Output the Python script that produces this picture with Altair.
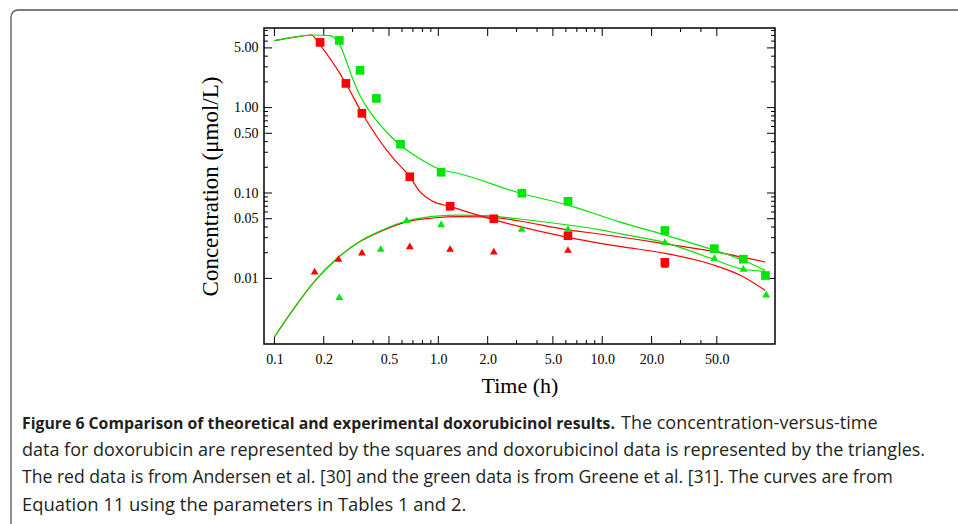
import altair as alt
import pandas as pd

# ---------------- data ----------------
# model curves
rp_t = [0.1, 0.13, 0.168, 0.189, 0.272, 0.342, 0.528, 0.668, 0.769, 0.927, 1.17, 2.17, 6.06, 12.75, 23.75, 47.2, 72.0, 98.6]
rp_c = [6.07, 6.64, 7.08, 5.45, 1.94, 0.865, 0.257, 0.156, 0.1045, 0.0798, 0.0697, 0.0487, 0.0305, 0.0237, 0.0198, 0.01446, 0.01055, 0.00724]

gp_t = [0.1, 0.13, 0.168, 0.217, 0.239, 0.256, 0.275, 0.302, 0.331, 0.381, 0.459, 0.581, 0.734, 1.02, 1.35, 3.13, 6.03, 12.75, 23.75, 47.2, 71.0, 98.6]
gp_c = [6.07, 6.64, 7.08, 6.95, 6.24, 4.99, 3.47, 2.12, 1.416, 0.903, 0.577, 0.368, 0.268, 0.19, 0.168, 0.1, 0.073, 0.046, 0.0325, 0.0217, 0.01656, 0.01241]

gm_t = [0.1, 0.13, 0.172, 0.239, 0.331, 0.459, 0.638, 0.927, 1.35, 1.96, 3.13, 6.03, 9.63, 12.75, 23.75, 47.2, 71.0, 98.6]
gm_c = [0.00206, 0.0043, 0.00883, 0.01687, 0.0271, 0.0372, 0.047, 0.0532, 0.0552, 0.0542, 0.0496, 0.0425, 0.0372, 0.0334, 0.0264, 0.01687, 0.01288, 0.0121]

rm_t = [0.1, 0.13, 0.172, 0.239, 0.331, 0.459, 0.638, 0.927, 1.35, 1.96, 3.13, 6.03, 9.63, 23.75, 47.2, 98.6]
rm_c = [0.00206, 0.0043, 0.00883, 0.01687, 0.0268, 0.0365, 0.046, 0.051, 0.053, 0.0525, 0.047, 0.0372, 0.0331, 0.0255, 0.0207, 0.01556]

# measured data
red_sq_t = [0.19, 0.273, 0.342, 0.67, 1.18, 2.18, 6.18, 24.1]
red_sq_c = [5.8, 1.92, 0.857, 0.155, 0.070, 0.0499, 0.0316, 0.0154]
red_tri_t = [0.176, 0.246, 0.342, 0.67, 1.18, 2.18, 6.18, 24.1]
red_tri_c = [0.0122, 0.0171, 0.0203, 0.0241, 0.0224, 0.0209, 0.0218, 0.0146]
green_sq_t = [0.249, 0.333, 0.419, 0.588, 1.04, 3.23, 6.18, 24.1, 48.3, 72.6, 99.0]
green_sq_c = [6.12, 2.73, 1.28, 0.372, 0.175, 0.0995, 0.080, 0.0364, 0.0223, 0.0168, 0.0108]
green_tri_t = [0.249, 0.445, 0.641, 1.04, 3.23, 6.18, 24.1, 48.3, 72.6, 100.0]
green_tri_c = [0.0061, 0.0224, 0.0486, 0.0436, 0.0384, 0.0384, 0.0269, 0.0175, 0.0131, 0.00655]

# axis ticks
x_major = [0.1, 0.2, 0.5, 1.0, 2.0, 5.0, 10.0, 20.0, 50.0]
x_minor = [0.3, 0.4, 0.6, 0.7, 0.8, 0.9, 3, 4, 6, 7, 8, 9, 30, 40]
y_major = [0.01, 0.05, 0.1, 0.5, 1.0, 5.0]
y_minor = [0.02, 0.03, 0.04, 0.06, 0.07, 0.08, 0.09, 0.2, 0.3, 0.4, 0.6, 0.7, 0.8, 0.9, 2, 3, 4, 6, 7, 8]

caption_bold = "Figure 6 Comparison of theoretical and experimental doxorubicinol results."
caption_l1 = "The concentration-versus-time"
caption_lines = [
    "data for doxorubicin are represented by the squares and doxorubicinol data is represented by the triangles.",
    "The red data is from Andersen et al. [30] and the green data is from Greene et al. [31]. The curves are from",
    "Equation 11 using the parameters in Tables 1 and 2.",
]
caption_sizes = [18, 17.6, 18.4]

RED = "#ff0000"
GREEN = "#00e600"

# ---------------- layout ----------------
W, H = 511, 316
LEFT, TOP = 264, 28

xs = alt.Scale(type="log", domain=[0.0864, 113.2], nice=False)
ys = alt.Scale(type="log", domain=[0.001706, 8.55], nice=False)

x_axis = alt.Axis(values=x_major, format=".1f", title="Time (h)", ticks=False, domain=False,
                  grid=False, labelFont="Liberation Serif", labelFontSize=14, labelColor="black",
                  labelPadding=8, titleFont="Liberation Serif", titleFontSize=22,
                  titleFontWeight="normal", titleColor="black", titlePadding=9, labelFlush=False)
y_axis = alt.Axis(values=y_major, format=".2f", title="Concentration (μmol/L)", ticks=False,
                  domain=False, grid=False, labelFont="Liberation Serif", labelFontSize=14,
                  labelColor="black", labelPadding=6, titleFont="Liberation Serif",
                  titleFontSize=23, titleFontWeight="normal", titleColor="black",
                  titlePadding=11, labelFlush=False)


def X(f="t"):
    return alt.X(f"{f}:Q", scale=xs, axis=x_axis)


def Y(f="c"):
    return alt.Y(f"{f}:Q", scale=ys, axis=y_axis)


def line(t, c, color):
    df = pd.DataFrame({"t": t, "c": c})
    return alt.Chart(df).mark_line(color=color, strokeWidth=1.2, interpolate="monotone").encode(
        x=X(), y=Y(), order="t:Q")


def pts(t, c, color, shape, size):
    df = pd.DataFrame({"t": t, "c": c})
    return alt.Chart(df).mark_point(color=color, fill=color, filled=True, opacity=1,
                                    shape=shape, size=size).encode(x=X(), y=Y())


layers = []

# figure frame (rounded box around figure)
frame = alt.Chart(pd.DataFrame({"a": [0]})).mark_rect(
    fill="white", fillOpacity=0, stroke="#555555", strokeWidth=1.3, cornerRadius=7
).encode(x=alt.value(11 - LEFT), x2=alt.value(958 - LEFT + 20),
         y=alt.value(10 - TOP), y2=alt.value(524 - TOP + 20))
layers.append(frame)

# ticks (inward, mirrored)
for vals, L in [(x_major, 8), (x_minor, 4)]:
    d = pd.DataFrame({"t": vals})
    layers.append(alt.Chart(d).mark_rule(color="black", strokeWidth=1).encode(
        x=X(), y=alt.value(H), y2=alt.value(H - L)))
    layers.append(alt.Chart(d).mark_rule(color="black", strokeWidth=1).encode(
        x=X(), y=alt.value(0), y2=alt.value(L)))
for vals, L in [(y_major, 8), (y_minor, 4)]:
    d = pd.DataFrame({"c": vals})
    layers.append(alt.Chart(d).mark_rule(color="black", strokeWidth=1).encode(
        y=Y(), x=alt.value(0), x2=alt.value(L)))
    layers.append(alt.Chart(d).mark_rule(color="black", strokeWidth=1).encode(
        y=Y(), x=alt.value(W), x2=alt.value(W - L)))

# curves
layers += [
    line(rm_t, rm_c, RED),
    line(gm_t, gm_c, GREEN),
    line(rp_t, rp_c, RED),
    line(gp_t, gp_c, GREEN),
]

# measured points
layers += [
    pts(red_sq_t, red_sq_c, RED, "square", 75),
    pts(green_sq_t, green_sq_c, GREEN, "square", 75),
    pts(red_tri_t, red_tri_c, RED, "triangle-up", 60),
    pts(green_tri_t, green_tri_c, GREEN, "triangle-up", 60),
]

# caption
cap_font = "Open Sans"
cap_y = [424 - TOP, 451 - TOP, 478 - TOP, 505 - TOP]
cap_x = 22 - LEFT
one = pd.DataFrame({"a": [0]})


def txt(s, x, y, size, align="left", weight="normal"):
    return alt.Chart(one).mark_text(
        text=s, font=cap_font, fontSize=size, fontWeight=weight, align=align,
        baseline="middle", color="#231f20").encode(x=alt.value(x), y=alt.value(y))


layers.append(txt(caption_bold, cap_x, cap_y[0], 15.8, weight="bold"))
layers.append(txt(caption_l1, 621 - LEFT, cap_y[0], 18))
for i in range(3):
    layers.append(txt(caption_lines[i], cap_x, cap_y[i + 1], caption_sizes[i]))

chart = alt.layer(*layers).properties(
    width=W, height=H,
    padding={"left": LEFT, "top": TOP, "right": 958 - LEFT - W, "bottom": 524 - TOP - H},
    autosize=alt.AutoSizeParams(type="none"),
    background="white",
).configure_view(stroke="black", strokeWidth=1.5)

chart.save("out.html", embed_options={"renderer": "svg", "actions": False})
